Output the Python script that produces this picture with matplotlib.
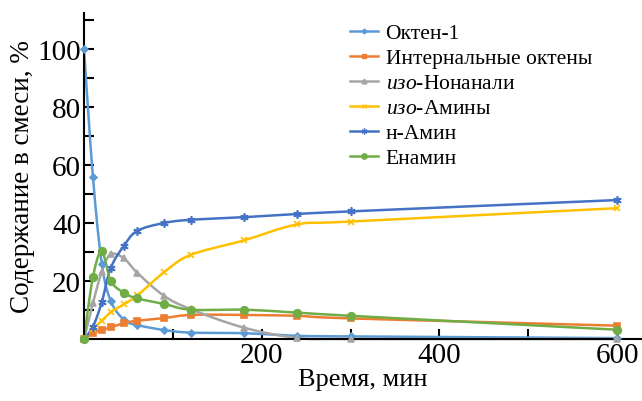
import numpy as np
import matplotlib.pyplot as plt
from matplotlib.ticker import MultipleLocator, FixedLocator, FixedFormatter

plt.rcParams['font.family'] = ['Liberation Serif', 'DejaVu Serif']
plt.rcParams['mathtext.fontset'] = 'custom'
plt.rcParams['mathtext.it'] = 'Liberation Serif:italic'
plt.rcParams['mathtext.rm'] = 'Liberation Serif'

# time, min
time = [0, 10, 20, 30, 45, 60, 90, 120, 180, 240, 300, 600]

# content in mixture, %
octene = [100, 56, 26, 13.2, 6.6, 4.8, 3.1, 2.2, 2.0, 1.1, 0.9, 0.3]
internal = [0, 2.1, 3.1, 4.0, 5.5, 6.3, 7.2, 8.3, 8.3, 8.0, 7.1, 4.6]
iso_nonanal = [0, 12.3, 23.2, 29.2, 27.8, 22.8, 14.9, 10.3, 3.9, 0.4, 0, 0]
iso_amines = [0, 3.4, 6.3, 9.2, 12, 15, 23, 29, 34, 39.5, 40.5, 45.1]
n_amine = [0, 4.2, 12.7, 24.4, 32.2, 37.3, 40, 41.1, 42, 43.1, 44, 47.9]
enamine = [0, 21.3, 30.2, 20.1, 15.9, 14.0, 12.1, 10.1, 10.1, 9.1, 8.0, 3.2]

labels = ['Октен-1', 'Интернальные октены', r'$\mathit{изо}$-Нонанали',
          r'$\mathit{изо}$-Амины', 'н-Амин', 'Енамин']
colors = ['#5B9BD5', '#ED7D31', '#A5A5A5', '#FFC000', '#4472C4', '#70AD47']
markers = ['D', 's', '^', 'x', (6, 2, 0), 'o']
msizes = [3.5, 5, 5, 5, 6, 5.5]
series = [octene, internal, iso_nonanal, iso_amines, n_amine, enamine]


def smooth(x, y, n=24):
    # excel-like smoothed line (bezier through the points, in pixel-ish units)
    sx, sy = 0.888, 2.9
    p = np.column_stack([np.asarray(x, float) * sx, np.asarray(y, float) * sy])
    pts = np.vstack([p[0], p, p[-1]])
    out = [p[:1]]
    t = np.linspace(0, 1, n)[1:, None]
    for i in range(1, len(pts) - 2):
        p0, p1, p2, p3 = pts[i - 1], pts[i], pts[i + 1], pts[i + 2]
        c1 = p1 + (p2 - p0) / 6
        c2 = p2 - (p3 - p1) / 6
        seg = ((1 - t) ** 3 * p1 + 3 * (1 - t) ** 2 * t * c1
               + 3 * (1 - t) * t ** 2 * c2 + t ** 3 * p2)
        out.append(seg)
    c = np.vstack(out)
    return c[:, 0] / sx, c[:, 1] / sy


fig = plt.figure(figsize=(6.42, 4.02), dpi=100)
ax = fig.add_axes([84 / 642, 62 / 402, 558 / 642, 326 / 402])

for vals, lab, col, mk, ms in zip(series, labels, colors, markers, msizes):
    xs, ys = smooth(time, vals)
    ax.plot(xs, ys, color=col, lw=1.8, clip_on=False, zorder=2)
    ax.plot(time, vals, ls='none', marker=mk, ms=ms, color=col, mec=col,
            mew=1.2, clip_on=False, zorder=3)
    ax.plot([], [], color=col, lw=1.8, marker=mk, ms=ms * 0.7, mew=1,
            label=lab)

ax.set_xlim(0, 628)
ax.set_ylim(0, 112.4)

for s in ['top', 'right']:
    ax.spines[s].set_visible(False)
for s in ['left', 'bottom']:
    ax.spines[s].set_linewidth(1.5)

ax.xaxis.set_major_locator(FixedLocator([100, 200, 300, 400, 500, 600]))
ax.xaxis.set_major_formatter(FixedFormatter(['', '200', '', '400', '', '600']))
ax.yaxis.set_major_locator(FixedLocator([20, 40, 60, 80, 100]))
ax.yaxis.set_minor_locator(MultipleLocator(10))
ax.tick_params(axis='both', which='both', direction='in', width=1.5,
               length=7, labelsize=21, pad=2)

ax.set_xlabel('Время, мин', fontsize=19, labelpad=0)
ax.set_ylabel('Содержание в смеси, %', fontsize=19.5, labelpad=2)

ax.legend(loc='upper left', bbox_to_anchor=(350 / 642, 1 - 24 / 402),
          bbox_transform=fig.transFigure, frameon=False, fontsize=15.5,
          handlelength=1.3, handletextpad=0.35, labelspacing=0.23,
          borderpad=0, borderaxespad=0)

fig.savefig('out.png', dpi=100)
